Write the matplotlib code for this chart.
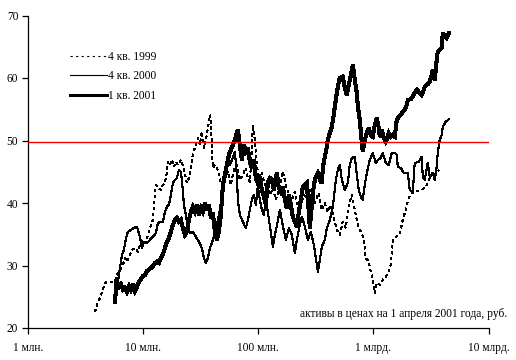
import numpy as np
import matplotlib
matplotlib.use("Agg")
import matplotlib.pyplot as plt

plt.rcParams['font.family'] = ['Liberation Serif', 'DejaVu Serif']

# ---------------- data (x = log10 of assets, rub; y = value) ----------------
labels = ["4 кв. 1999", "4 кв. 2000", "1 кв. 2001"]
threshold = 49.7

x_1999 = [6.582, 6.599, 6.625, 6.651, 6.668, 6.694, 6.738, 6.755, 6.773, 6.799,
          6.825, 6.842, 6.859, 6.885, 6.903, 6.929, 6.955, 6.972, 6.998, 7.024,
          7.050, 7.068, 7.085, 7.102, 7.111, 7.128, 7.154, 7.172, 7.189, 7.207,
          7.215, 7.233, 7.250, 7.267, 7.285, 7.302, 7.328, 7.354, 7.380, 7.398,
          7.415, 7.432, 7.450, 7.476, 7.493, 7.510, 7.528, 7.545, 7.563, 7.580,
          7.589, 7.597, 7.606, 7.623, 7.649, 7.667, 7.684, 7.710, 7.736, 7.762,
          7.788, 7.814, 7.840, 7.866, 7.892, 7.910, 7.927, 7.944, 7.953, 7.970,
          7.988, 8.005, 8.031, 8.057, 8.083, 8.101, 8.127, 8.153, 8.179, 8.214,
          8.240, 8.266, 8.292, 8.318, 8.344, 8.370, 8.396, 8.422, 8.448, 8.474,
          8.500, 8.526, 8.552, 8.578, 8.604, 8.630, 8.656, 8.682, 8.708, 8.734,
          8.760, 8.787, 8.813, 8.839, 8.865, 8.891, 8.917, 8.934, 8.960, 8.977,
          8.995, 9.012, 9.030, 9.056, 9.082, 9.108, 9.134, 9.151, 9.168, 9.194,
          9.229, 9.255, 9.281, 9.307, 9.342, 9.385, 9.420, 9.455, 9.490, 9.516,
          9.542, 9.568]
y_1999 = [22.6, 23.7, 24.8, 26.1, 27.2, 27.4, 27.4, 27.4, 28.5, 29.3,
          30.1, 31.2, 30.6, 31.7, 32.5, 32.8, 32.2, 33.3, 34.1, 33.6,
          35.4, 36.5, 37.3, 41.3, 42.9, 42.4, 42.1, 42.9, 43.2, 45.0,
          46.6, 46.1, 46.9, 45.8, 46.6, 46.1, 46.9, 45.6, 43.2, 44.0,
          45.3, 48.0, 48.8, 50.4, 49.3, 51.4, 48.8, 50.1, 52.0, 54.1,
          52.5, 49.3, 45.6, 46.1, 45.3, 43.7, 42.9, 44.0, 45.0, 42.9,
          45.3, 46.1, 43.7, 44.5, 45.6, 44.0, 43.4, 48.5, 52.5, 50.1,
          46.1, 44.0, 45.0, 42.9, 43.7, 41.3, 42.4, 40.5, 42.1, 45.0,
          42.9, 41.3, 40.5, 41.8, 38.9, 39.7, 41.3, 40.8, 42.1, 39.2,
          40.5, 41.6, 38.9, 40.0, 38.6, 39.7, 37.6, 35.7, 34.9, 37.0,
          36.0, 39.7, 41.3, 38.9, 36.5, 35.4, 34.4, 31.2, 30.6, 29.0,
          27.7, 25.6, 27.2, 26.9, 27.7, 28.2, 29.0, 30.1, 34.1, 34.6,
          34.9, 37.3, 38.9, 40.8, 41.8, 41.9, 42.1, 42.6, 44.0, 45.0,
          44.5, 45.3]

x_2000 = [6.755, 6.764, 6.781, 6.799, 6.816, 6.833, 6.851, 6.868, 6.894, 6.920,
          6.946, 6.972, 6.990, 7.007, 7.033, 7.059, 7.085, 7.111, 7.128, 7.154,
          7.172, 7.189, 7.207, 7.224, 7.241, 7.259, 7.276, 7.293, 7.311, 7.328,
          7.345, 7.354, 7.371, 7.389, 7.406, 7.432, 7.458, 7.484, 7.510, 7.528,
          7.545, 7.563, 7.580, 7.597, 7.623, 7.649, 7.667, 7.684, 7.701, 7.719,
          7.736, 7.753, 7.779, 7.797, 7.814, 7.823, 7.840, 7.866, 7.892, 7.910,
          7.927, 7.944, 7.962, 7.979, 7.996, 8.014, 8.031, 8.049, 8.066, 8.083,
          8.101, 8.118, 8.127, 8.144, 8.161, 8.188, 8.214, 8.240, 8.266, 8.292,
          8.318, 8.335, 8.361, 8.379, 8.405, 8.431, 8.457, 8.483, 8.500, 8.518,
          8.535, 8.552, 8.578, 8.596, 8.622, 8.648, 8.674, 8.691, 8.708, 8.726,
          8.752, 8.778, 8.795, 8.813, 8.839, 8.856, 8.873, 8.891, 8.908, 8.925,
          8.943, 8.969, 8.995, 9.021, 9.038, 9.064, 9.082, 9.108, 9.134, 9.160,
          9.186, 9.203, 9.212, 9.238, 9.264, 9.299, 9.316, 9.342, 9.359, 9.394,
          9.420, 9.429, 9.446, 9.472, 9.490, 9.516, 9.533, 9.550, 9.559, 9.576,
          9.594, 9.603, 9.629, 9.655]
y_2000 = [26.9, 28.0, 27.4, 29.6, 31.7, 32.5, 34.4, 35.4, 35.7, 36.0,
          36.2, 34.6, 32.8, 33.8, 33.6, 34.1, 34.6, 35.2, 36.8, 37.0,
          37.0, 38.6, 39.4, 39.7, 41.3, 43.2, 43.7, 44.0, 45.3, 45.0,
          42.1, 39.7, 38.1, 36.0, 35.2, 35.4, 34.6, 33.8, 32.8, 31.2,
          30.4, 31.2, 32.8, 33.6, 35.2, 37.3, 38.9, 41.3, 42.9, 45.3,
          46.9, 46.1, 47.2, 48.2, 44.5, 40.5, 38.1, 37.0, 36.0, 37.3,
          38.9, 40.5, 41.3, 39.7, 42.6, 40.5, 38.9, 38.1, 40.5, 38.6,
          36.3, 34.1, 33.0, 34.9, 36.3, 38.9, 36.3, 34.1, 36.0, 34.9,
          32.0, 34.1, 36.5, 37.8, 36.2, 34.1, 35.4, 33.3, 31.2, 29.0,
          30.9, 33.0, 34.1, 36.0, 37.3, 39.4, 43.7, 45.3, 46.1, 43.7,
          42.1, 43.2, 46.1, 47.2, 47.4, 44.5, 42.1, 41.0, 40.5, 42.9,
          44.8, 46.9, 48.0, 46.4, 46.9, 47.2, 48.0, 46.4, 46.1, 48.0,
          48.0, 47.7, 45.8, 45.6, 44.8, 44.8, 42.1, 41.6, 46.4, 46.6,
          47.4, 44.2, 43.7, 46.4, 44.2, 44.8, 43.7, 45.8, 48.0, 50.1,
          50.9, 52.2, 53.0, 53.4]

x_2001 = [6.755, 6.764, 6.773, 6.790, 6.807, 6.825, 6.842, 6.859, 6.877, 6.894,
          6.911, 6.929, 6.946, 6.964, 6.981, 6.998, 7.016, 7.033, 7.050, 7.068,
          7.085, 7.102, 7.120, 7.137, 7.154, 7.172, 7.189, 7.207, 7.224, 7.241,
          7.259, 7.276, 7.293, 7.311, 7.328, 7.345, 7.363, 7.380, 7.398, 7.415,
          7.432, 7.450, 7.467, 7.484, 7.502, 7.519, 7.536, 7.554, 7.571, 7.589,
          7.606, 7.623, 7.641, 7.658, 7.675, 7.684, 7.693, 7.710, 7.727, 7.745,
          7.762, 7.779, 7.797, 7.814, 7.823, 7.840, 7.858, 7.875, 7.892, 7.910,
          7.927, 7.944, 7.962, 7.979, 7.996, 8.014, 8.031, 8.049, 8.066, 8.083,
          8.101, 8.118, 8.135, 8.153, 8.161, 8.179, 8.196, 8.214, 8.231, 8.248,
          8.266, 8.283, 8.300, 8.318, 8.335, 8.353, 8.370, 8.387, 8.405, 8.422,
          8.431, 8.448, 8.466, 8.483, 8.500, 8.518, 8.535, 8.552, 8.561, 8.578,
          8.596, 8.604, 8.622, 8.639, 8.656, 8.665, 8.682, 8.700, 8.708, 8.734,
          8.752, 8.769, 8.787, 8.795, 8.813, 8.821, 8.839, 8.856, 8.865, 8.882,
          8.891, 8.899, 8.908, 8.925, 8.943, 8.960, 8.977, 8.995, 9.012, 9.030,
          9.047, 9.056, 9.073, 9.090, 9.108, 9.116, 9.134, 9.151, 9.168, 9.186,
          9.203, 9.220, 9.238, 9.255, 9.273, 9.290, 9.299, 9.325, 9.342, 9.359,
          9.377, 9.403, 9.420, 9.438, 9.446, 9.472, 9.490, 9.507, 9.516, 9.524,
          9.533, 9.550, 9.559, 9.576, 9.594, 9.603, 9.620, 9.637, 9.655]
y_2001 = [24.2, 26.1, 27.2, 26.6, 27.0, 26.1, 26.4, 25.8, 26.7, 26.1,
          27.0, 25.9, 26.6, 27.4, 27.8, 28.3, 28.5, 29.1, 29.3, 29.6,
          29.9, 30.4, 30.6, 30.4, 31.2, 31.8, 32.8, 33.8, 34.4, 35.4,
          36.5, 37.3, 37.6, 37.0, 37.3, 36.0, 34.9, 35.4, 37.3, 38.6,
          39.4, 38.6, 39.7, 38.1, 39.2, 38.6, 40.0, 38.9, 39.7, 37.6,
          38.4, 35.4, 34.1, 35.4, 38.1, 40.5, 42.9, 44.5, 46.1, 47.7,
          48.5, 49.3, 50.1, 51.2, 51.7, 49.3, 46.9, 49.3, 48.2, 48.8,
          46.6, 45.6, 46.9, 44.0, 43.2, 44.2, 42.1, 41.0, 39.7, 43.2,
          44.0, 43.7, 42.1, 44.0, 44.8, 42.4, 41.8, 42.6, 40.5, 39.2,
          41.3, 39.7, 37.8, 37.0, 36.2, 38.6, 40.5, 42.6, 42.9, 43.2,
          40.8, 36.0, 39.7, 42.9, 44.2, 44.8, 43.7, 43.2, 45.6, 47.4,
          49.0, 50.1, 51.2, 52.2, 54.1, 55.4, 57.6, 59.4, 60.0, 60.2,
          58.4, 57.3, 58.9, 59.7, 61.3, 62.1, 59.7, 57.6, 55.4, 53.3,
          51.4, 49.8, 48.2, 50.1, 51.2, 52.0, 50.9, 50.6, 52.5, 53.6,
          52.0, 50.6, 51.7, 50.4, 49.8, 50.1, 51.2, 50.6, 50.9, 50.6,
          53.3, 53.8, 54.1, 54.6, 54.9, 55.7, 56.5, 56.6, 57.0, 57.6,
          58.1, 57.6, 57.3, 58.1, 58.6, 59.0, 59.4, 60.5, 61.3, 60.0,
          59.7, 62.9, 64.2, 64.5, 64.8, 67.2, 66.7, 66.4, 67.2]

x_ticks = [1e6, 1e7, 1e8, 1e9, 1e10]
x_ticklabels = ["1 млн.", "10 млн.", "100 млн.", "1 млрд.", "10 млрд."]
y_ticks = [20, 30, 40, 50, 60, 70]
note = "активы в ценах на 1 апреля 2001 года, руб."

# ---------------- figure ----------------
W, H = 516, 360
FS = 8.3
fig = plt.figure(figsize=(W / 100, H / 100), dpi=100)
ax = fig.add_axes([28 / W, 1 - 328 / H, (488.5 - 28) / W, (328 - 15.5) / H])

l1, = ax.plot(10 ** np.array(x_1999), y_1999, color='black', lw=0.8,
              linestyle=(0, (2, 3)), antialiased=False)
l2, = ax.plot(10 ** np.array(x_2000), y_2000, color='black', lw=0.8,
              antialiased=False)
l3, = ax.plot(10 ** np.array(x_2001), y_2001, color='black', lw=2.2,
              antialiased=False, solid_joinstyle='miter')
ax.axhline(threshold, color='#ff0000', lw=1.0, zorder=5)

ax.set_xscale('log')
ax.set_xlim(1e6, 1e10)
ax.set_ylim(20, 70)
ax.set_xticks(x_ticks)
ax.set_xticklabels(x_ticklabels)
ax.xaxis.set_minor_locator(matplotlib.ticker.NullLocator())
ax.set_yticks(y_ticks)

for s in ['top', 'right']:
    ax.spines[s].set_visible(False)
for s in ['left', 'bottom']:
    ax.spines[s].set_linewidth(0.9)
ax.tick_params(axis='both', direction='out', length=4, width=0.9,
               labelsize=FS, colors='black')
ax.tick_params(axis='x', pad=6.0)
ax.tick_params(axis='y', pad=3)

leg = fig.legend([l1, l2, l3], labels, loc='upper left',
                 bbox_to_anchor=(70 / W, 1 - 51 / H), frameon=False,
                 fontsize=FS, handlelength=3.2, handletextpad=0.1,
                 labelspacing=0.65, borderpad=0, borderaxespad=0)

fig.text(507 / W, 1 - 314 / H, note, ha='right', va='center', fontsize=FS)

fig.savefig('out.png', dpi=100)
